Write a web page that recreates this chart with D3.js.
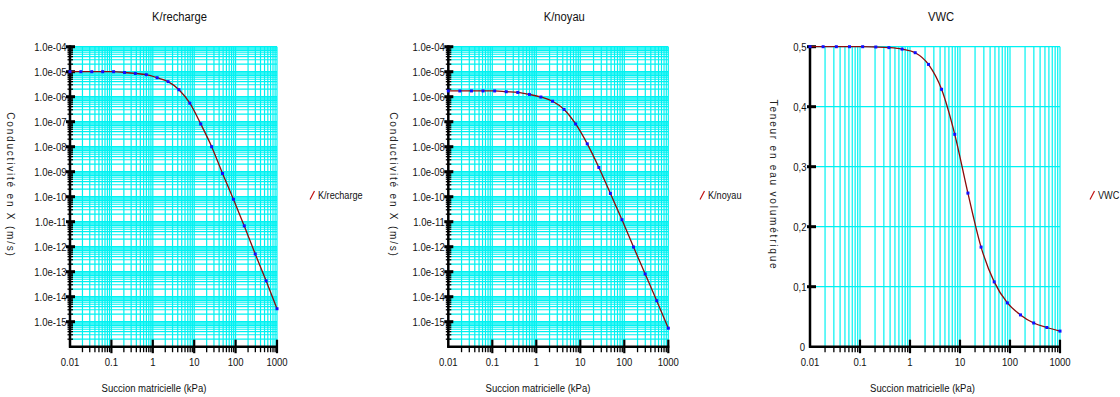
<!DOCTYPE html>
<html>
<head>
<meta charset="utf-8">
<script src="https://cdn.jsdelivr.net/npm/d3@7"></script>
<style>
  html, body { margin: 0; padding: 0; background: #fff; }
  svg { display: block; }
  text { font-family: "Liberation Sans", Arial, sans-serif; fill: #111; }
  .ytitle { font-size: 10px; letter-spacing: 1.8px; fill: #222; }
</style>
</head>
<body>
<svg id="chart" width="1120" height="397"></svg>
<script>
// ---------- data ----------
const suction = [0.01, 0.0183, 0.0336, 0.0616, 0.113, 0.207, 0.379, 0.695, 1.27, 2.34,
                 4.28, 7.85, 14.4, 26.4, 48.3, 88.6, 162, 298, 546, 1000];
const kRecharge = [1.0e-5, 1.0e-5, 1.0e-5, 1.0e-5, 1.0e-5, 9.3e-6, 8.5e-6, 7.6e-6, 5.75e-6, 4.0e-6,
                   1.9e-6, 5.5e-7, 8.1e-8, 1.0e-8, 8.5e-10, 7.9e-11, 6.8e-12, 5.1e-13, 4.3e-14, 3.3e-15];
const kNoyau = [1.7e-6, 1.7e-6, 1.7e-6, 1.7e-6, 1.7e-6, 1.58e-6, 1.48e-6, 1.23e-6, 9.7e-7, 6.6e-7,
                3.1e-7, 8.1e-8, 1.3e-8, 1.48e-9, 1.35e-10, 1.2e-11, 9.7e-13, 8.1e-14, 6.9e-15, 5.5e-16];
const vwc = [0.5, 0.5, 0.5, 0.5, 0.5, 0.4995, 0.4985, 0.496, 0.490, 0.4705,
             0.429, 0.354, 0.256, 0.166, 0.108, 0.073, 0.053, 0.0395, 0.032, 0.026];

const xTickValues = [0.01, 0.1, 1, 10, 100, 1000];
const xTickLabels = ["0.01", "0.1", "1", "10", "100", "1000"];
const kTickValues = [1e-4, 1e-5, 1e-6, 1e-7, 1e-8, 1e-9, 1e-10, 1e-11, 1e-12, 1e-13, 1e-14, 1e-15];
const kTickLabels = ["1.0e-04", "1.0e-05", "1.0e-06", "1.0e-07", "1.0e-08", "1.0e-09",
                     "1.0e-10", "1.0e-11", "1.0e-12", "1.0e-13", "1.0e-14", "1.0e-15"];
const vwcTickValues = [0, 0.1, 0.2, 0.3, 0.4, 0.5];
const vwcTickLabels = ["0", "0,1", "0,2", "0,3", "0,4", "0,5"];
const titles = ["K/recharge", "K/noyau", "VWC"];
const xTitle = "Succion matricielle (kPa)";
const yTitles = ["Conductivité en X (m/s)", "Conductivité en X (m/s)", "Teneur en eau volumétrique"];

// ---------- layout ----------
const svg = d3.select("#chart");
const TOP = 46.7, BOTTOM = 346.7;
const GRID = "#00f2f2";
const SX = 0.83; // condensed look of the original font

function ntext(sel, x, y, anchor, size, str) {
  return sel.append("text")
    .attr("transform", `translate(${x},${y}) scale(${SX},1)`)
    .attr("text-anchor", anchor).attr("font-size", size).text(str);
}

const panels = [
  { title: titles[0], values: kRecharge, x0: 70,    x1: 277,   log: true,
    yTitle: yTitles[0], yTitleX: 10,  xTitleX: 154,  legendX: 310 },
  { title: titles[1], values: kNoyau,    x0: 448.3, x1: 668.3, log: true,
    yTitle: yTitles[1], yTitleX: 393, xTitleX: 538,  legendX: 700 },
  { title: titles[2], values: vwc,       x0: 810,   x1: 1060,  log: false,
    yTitle: yTitles[2], yTitleX: 773, xTitleX: 922.5, legendX: 1090 }
];

panels.forEach(p => {
  const g = svg.append("g");
  const x = d3.scaleLog().domain([0.01, 1000]).range([p.x0, p.x1]);
  const y = p.log
    ? d3.scaleLog().domain([1e-16, 1e-4]).range([BOTTOM, TOP])
    : d3.scaleLinear().domain([0, 0.5]).range([BOTTOM, TOP]);

  const xMinor = x.ticks();                 // 1..9 x 10^n
  const yGrid = p.log ? y.ticks(20) : vwcTickValues.slice(1);

  // grid
  g.append("g").selectAll("line").data(xMinor.filter(v => v > 0.01)).join("line")
    .attr("x1", d => x(d)).attr("x2", d => x(d))
    .attr("y1", TOP).attr("y2", BOTTOM)
    .attr("stroke", GRID).attr("stroke-width", 1.2);
  g.append("g").selectAll("line").data(yGrid.filter(v => y(v) < BOTTOM - 1)).join("line")
    .attr("x1", p.x0).attr("x2", p.x1)
    .attr("y1", d => y(d)).attr("y2", d => y(d))
    .attr("stroke", GRID).attr("stroke-width", 1.2);

  // axes lines
  g.append("line").attr("x1", p.x0).attr("x2", p.x0).attr("y1", TOP - 1.5).attr("y2", BOTTOM + 1)
    .attr("stroke", "#000").attr("stroke-width", 2.5);
  g.append("line").attr("x1", p.x0 - 1).attr("x2", p.x1 + 1).attr("y1", BOTTOM).attr("y2", BOTTOM)
    .attr("stroke", "#000").attr("stroke-width", 2.5);

  // x ticks
  g.append("g").selectAll("line").data(xMinor.filter(v => v > 0.01 && !xTickValues.includes(v))).join("line")
    .attr("x1", d => x(d)).attr("x2", d => x(d))
    .attr("y1", BOTTOM).attr("y2", BOTTOM + 5.5)
    .attr("stroke", "#000").attr("stroke-width", 1.3);
  g.append("g").selectAll("line").data(xTickValues.slice(1)).join("line")
    .attr("x1", d => x(d)).attr("x2", d => x(d))
    .attr("y1", BOTTOM - 7).attr("y2", BOTTOM + 6.5)
    .attr("stroke", "#000").attr("stroke-width", 2.2);
  xTickValues.forEach((v, i) => ntext(g, x(v), BOTTOM + 19, "middle", 11.5, xTickLabels[i]));

  // y ticks
  if (p.log) {
    g.append("g").selectAll("line").data(y.ticks(20).filter(v => !kTickValues.includes(v) && y(v) < BOTTOM - 1)).join("line")
      .attr("x1", p.x0 - 2.5).attr("x2", p.x0 + 3)
      .attr("y1", d => y(d)).attr("y2", d => y(d))
      .attr("stroke", "#000").attr("stroke-width", 1.3);
    g.append("g").selectAll("line").data(kTickValues).join("line")
      .attr("x1", p.x0 - 4).attr("x2", p.x0 + 5)
      .attr("y1", d => y(d)).attr("y2", d => y(d))
      .attr("stroke", "#000").attr("stroke-width", 3);
    kTickValues.forEach((v, i) => ntext(g, p.x0 - 3.5, y(v) + 4, "end", 11.5, kTickLabels[i]));
  } else {
    g.append("g").selectAll("line").data(vwcTickValues.slice(1)).join("line")
      .attr("x1", p.x0 - 3).attr("x2", p.x0 + 6)
      .attr("y1", d => y(d)).attr("y2", d => y(d))
      .attr("stroke", "#000").attr("stroke-width", 3);
    vwcTickValues.forEach((v, i) => ntext(g, v === 0 ? p.x0 - 5 : p.x0 - 3.5, y(v) + 4, "end", 11.5, vwcTickLabels[i]));
  }

  // series line + markers
  const pts = suction.map((s, i) => [s, p.values[i]]);
  const line = d3.line().x(d => x(d[0])).y(d => y(d[1])).curve(d3.curveMonotoneX);
  g.append("path").datum(pts).attr("d", line)
    .attr("fill", "none").attr("stroke", "#8b0a0a").attr("stroke-width", 1.3);
  g.append("g").selectAll("rect").data(pts).join("rect")
    .attr("x", d => x(d[0]) - 1.5).attr("y", d => y(d[1]) - 1.5)
    .attr("width", 3).attr("height", 3).attr("fill", "#1010ff");

  // titles
  ntext(g, (p.x0 + p.x1) / 2 + 6, 21, "middle", 13.5, p.title);
  ntext(g, p.xTitleX, 392, "middle", 11.5, xTitle);
  g.append("text").attr("class", "ytitle")
    .attr("transform", `translate(${p.yTitleX - 3.5},185) rotate(90)`)
    .attr("text-anchor", "middle").text(p.yTitle);

  // legend
  g.append("line").attr("x1", p.legendX).attr("y1", 199.5).attr("x2", p.legendX + 4.5).attr("y2", 191)
    .attr("stroke", "#c01010").attr("stroke-width", 1.2);
  ntext(g, p.legendX + 8, 199, "start", 11, p.title);
});
</script>
</body>
</html>
